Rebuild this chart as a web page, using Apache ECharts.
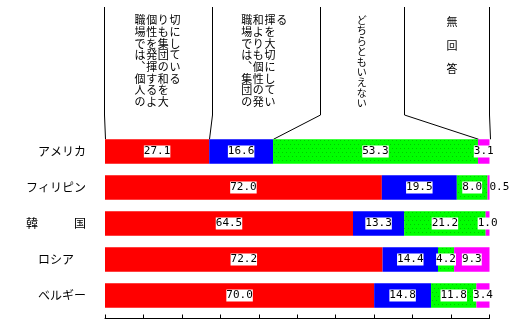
<!DOCTYPE html>
<html>
<head>
<meta charset="utf-8">
<script src="https://cdn.jsdelivr.net/npm/echarts@6/dist/echarts.min.js"></script>
<style>
  html, body { margin: 0; padding: 0; background: #fff; }
  #main { width: 530px; height: 327px; }
</style>
</head>
<body>
<div id="main"></div>
<script>
// 国名（上から順）
const countries = ["アメリカ", "フィリピン", "韓　　　国", "ロシア　", "ベルギー"];
// 回答項目
const answers = [
  "職場では、個人の個性を発揮するよりも集団の和を大切にしている",
  "職場では、集団の和よりも個性の発揮を大切にしている",
  "どちらともいえない",
  "無回答"
];
// 各回答の割合（%）
const groupHarmony = [27.1, 72.0, 64.5, 72.2, 70.0];
const individuality = [16.6, 19.5, 13.3, 14.4, 14.8];
const neither = [53.3, 8.0, 21.2, 4.2, 11.8];
const noAnswer = [3.1, 0.5, 1.0, 9.3, 3.4];

const chart = echarts.init(document.getElementById("main"));

const labelStyle = {
  show: true,
  position: "inside",
  color: "#000",
  backgroundColor: "#fff",
  fontFamily: "DejaVu Sans Mono",
  fontSize: 11,
  lineHeight: 12,
  padding: [0, 0, 0, 0],
  formatter: (p) => p.value.toFixed(1),
};

function makeSeries(name, values, itemStyle) {
  return {
    name: name,
    type: "bar",
    stack: "total",
    barCategoryGap: "32%",
    itemStyle: itemStyle,
    label: labelStyle,
    // 値が小さすぎるものはバーの右外に表示
    data: values.map((v) => v < 1
      ? { value: v, label: { position: "right", distance: 0, backgroundColor: "transparent" } }
      : v),
  };
}

const option = {
  animation: false,
  backgroundColor: "#fff",
  grid: { left: 105, right: 40.5, top: 133.5, height: 180 },
  xAxis: {
    type: "value",
    min: 0,
    max: 100,
    interval: 10,
    offset: 5,
    axisLine: { show: true, lineStyle: { color: "#000", width: 1 } },
    axisTick: { show: true, inside: true, length: 4, lineStyle: { color: "#000" } },
    axisLabel: { show: false },
    splitLine: { show: false },
  },
  yAxis: {
    type: "category",
    inverse: true,
    data: countries,
    axisLine: { show: false },
    axisTick: { show: false },
    axisLabel: {
      color: "#000",
      fontSize: 12,
      fontFamily: "Noto Sans CJK JP",
      margin: 19,
    },
  },
  series: [
    makeSeries(answers[0], groupHarmony, { color: "#ff0000" }),
    makeSeries(answers[1], individuality, { color: "#0000ff" }),
    // 緑は細かい点模様
    makeSeries(answers[2], neither, {
      color: "#00ff00",
      decal: {
        symbol: "rect",
        symbolSize: 1,
        color: "#00c800",
        dashArrayX: [[1, 3], [0, 2, 1, 1]],
        dashArrayY: [1, 3],
        rotation: 0,
      },
    }),
    makeSeries(answers[3], noAnswer, { color: "#ff00ff" }),
  ],
};

chart.setOption(option);

// 見出し部分（縦書き）と引き出し線
const topY = 7, bendY = 115;
const headerX = [104.5, 212.5, 320.5, 404.5, 489.5];
let cum = [0];
[groupHarmony, individuality, neither, noAnswer].forEach((arr) => {
  cum.push(Math.min(100, cum[cum.length - 1] + arr[0]));
});
const barTop = chart.convertToPixel({ gridIndex: 0 }, [0, 0])[1] - 12.25;

const graphics = [];
headerX.forEach((hx, i) => {
  const bx = Math.round(chart.convertToPixel({ gridIndex: 0 }, [cum[i], 0])[0]) + 0.5;
  graphics.push({
    type: "polyline",
    shape: { points: [[hx, topY], [hx, bendY], [bx, barTop]] },
    style: { stroke: "#000", lineWidth: 1, fill: null },
    silent: true,
  });
});

function chunk(str, n) {
  const chars = Array.from(str.replace(/、/g, "︑"));
  const out = [];
  for (let i = 0; i < chars.length; i += n) out.push(chars.slice(i, i + n));
  return out;
}

function addColumn(chars, x, y, size, lh) {
  graphics.push({
    type: "text",
    silent: true,
    style: {
      text: chars.join("\n"),
      x: x,
      y: y,
      fill: "#000",
      font: size + 'px "Noto Sans CJK JP"',
      lineHeight: lh,
      textAlign: "center",
      textVerticalAlign: "top",
    },
  });
}

// 1・2列目：8文字ずつ左から右へ
[[answers[0], 140], [answers[1], 246.7]].forEach(([txt, x0]) => {
  chunk(txt, 8).forEach((col, j) => addColumn(col, x0 + j * 11.67, 14.3, 11, 11.67));
});
// 3列目
addColumn(Array.from(answers[2]), 361.7, 15, 10, 10.4);
// 4列目
addColumn(Array.from(answers[3]), 452, 10.5, 11, 23.3);

chart.setOption({ graphic: graphics });
</script>
</body>
</html>
